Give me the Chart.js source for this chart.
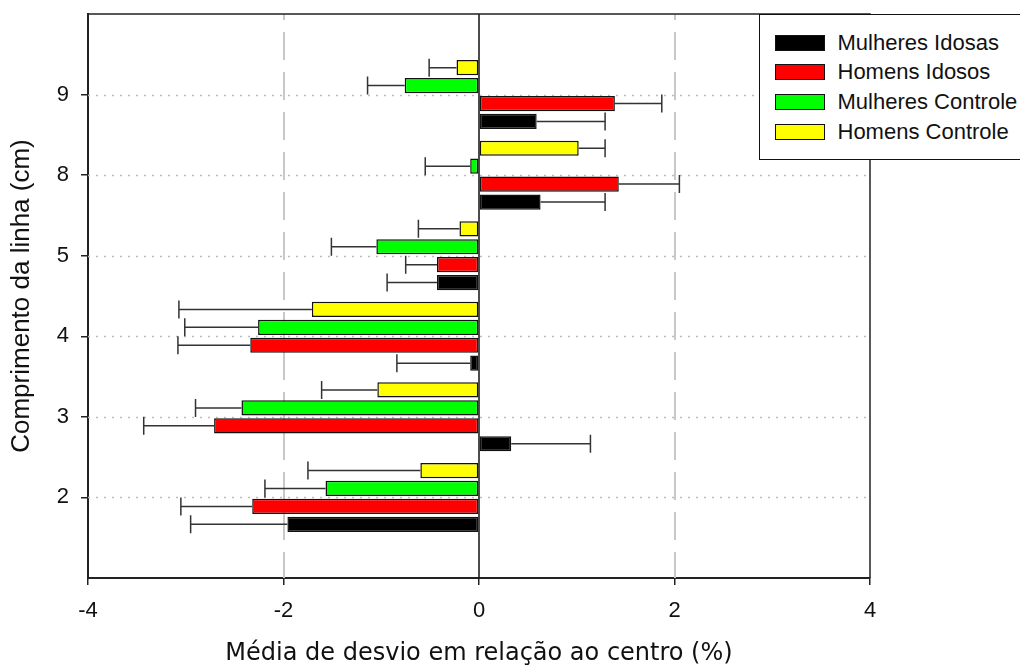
<!DOCTYPE html>
<html>
<head>
<meta charset="utf-8">
<script src="https://cdn.jsdelivr.net/npm/chart.js@4.4.1/dist/chart.umd.min.js"></script>
<style>
  html, body { margin: 0; padding: 0; background: #fff; }
  #wrap { position: relative; width: 1020px; height: 668px; overflow: hidden; }
  #legend {
    position: absolute; left: 759px; top: 14px; width: 300px; height: 146px;
    border: 1.5px solid #111; background: #fff; box-sizing: border-box;
    font-family: "Liberation Sans", Arial, sans-serif; font-size: 22px; color: #111;
  }
  .item { position: absolute; left: 14.5px; height: 16px; display: flex; align-items: center; white-space: nowrap; }
  .sw { width: 50px; height: 16px; border: 1.5px solid #111; box-sizing: border-box; margin-right: 13px; flex: none; }
</style>
</head>
<body>
<div id="wrap">
  <canvas id="chart" width="1020" height="668"></canvas>
  <div id="legend"></div>
</div>
<script>
"use strict";

// categories from bottom to top
const categories = ['2', '3', '4', '5', '8', '9'];
const xTicks = [-4, -2, 0, 2, 4];

const mulheresIdosas = [-1.96, 0.33, -0.09, -0.43, 0.63, 0.59];
const mulheresIdosasErr = [0.99, 0.81, 0.75, 0.51, 0.66, 0.70];

const homensIdosos = [-2.32, -2.71, -2.34, -0.43, 1.43, 1.39];
const homensIdososErr = [0.73, 0.72, 0.74, 0.32, 0.62, 0.48];

const mulheresControle = [-1.57, -2.43, -2.26, -1.05, -0.09, -0.76];
const mulheresControleErr = [0.62, 0.47, 0.75, 0.46, 0.46, 0.38];

const homensControle = [-0.60, -1.04, -1.71, -0.20, 1.02, -0.23];
const homensControleErr = [1.15, 0.57, 1.36, 0.42, 0.27, 0.28];

const series = [
  { label: 'Mulheres Idosas', values: mulheresIdosas, errors: mulheresIdosasErr, color: '#000000' },
  { label: 'Homens Idosos', values: homensIdosos, errors: homensIdososErr, color: '#ff0000' },
  { label: 'Mulheres Controle', values: mulheresControle, errors: mulheresControleErr, color: '#00ff00' },
  { label: 'Homens Controle', values: homensControle, errors: homensControleErr, color: '#ffff00' }
];

const sansFont = '"Liberation Sans", Arial, sans-serif';

// first dataset is drawn at the top of each group, so reverse
const datasets = series.slice().reverse().map(s => ({
  label: s.label,
  data: s.values.map((v, i) => ({ x: v, y: i + 1 })),
  errors: s.errors,
  backgroundColor: s.color,
  borderColor: '#111',
  borderWidth: 1.5,
  borderSkipped: false,
  categoryPercentage: 0.89,
  barPercentage: 0.85
}));

const backGrid = {
  id: 'backGrid',
  beforeDatasetsDraw(chart) {
    const { ctx, chartArea: a, scales } = chart;
    ctx.save();
    // dotted lines at each category
    ctx.strokeStyle = '#bdbdbd';
    ctx.lineWidth = 1.5;
    ctx.setLineDash([2, 6]);
    categories.forEach((c, i) => {
      const y = Math.round(scales.y.getPixelForValue(i + 1)) + 0.5;
      ctx.beginPath();
      ctx.moveTo(a.left, y);
      ctx.lineTo(a.right, y);
      ctx.stroke();
    });
    // dashed lines at -2 and 2
    ctx.strokeStyle = '#c8c8c8';
    ctx.lineWidth = 2;
    ctx.setLineDash([28, 12]);
    ctx.lineDashOffset = 22;
    [-2, 2].forEach(v => {
      const x = Math.round(scales.x.getPixelForValue(v));
      ctx.beginPath();
      ctx.moveTo(x, a.top);
      ctx.lineTo(x, a.bottom);
      ctx.stroke();
    });
    // zero line
    ctx.setLineDash([]);
    ctx.strokeStyle = '#111';
    ctx.lineWidth = 1.5;
    const x0 = scales.x.getPixelForValue(0);
    ctx.beginPath();
    ctx.moveTo(x0, a.top);
    ctx.lineTo(x0, a.bottom);
    ctx.stroke();
    ctx.restore();
  },
  afterDraw(chart) {
    const { ctx, chartArea: a } = chart;
    ctx.save();
    ctx.strokeStyle = '#222';
    ctx.lineWidth = 1.5;
    ctx.beginPath();
    ctx.moveTo(a.left, a.top);
    ctx.lineTo(a.right, a.top);
    ctx.lineTo(a.right, a.bottom);
    ctx.stroke();
    ctx.restore();
  }
};

const errorBars = {
  id: 'errorBars',
  afterDatasetsDraw(chart) {
    const ctx = chart.ctx;
    const xs = chart.scales.x;
    ctx.save();
    ctx.strokeStyle = '#333';
    ctx.lineWidth = 1.5;
    chart.data.datasets.forEach((ds, di) => {
      const meta = chart.getDatasetMeta(di);
      meta.data.forEach((bar, i) => {
        const v = ds.data[i].x;
        const dir = v < 0 ? -1 : 1;
        const xEnd = xs.getPixelForValue(v + dir * ds.errors[i]);
        const y = bar.y;
        ctx.beginPath();
        ctx.moveTo(bar.x, y);
        ctx.lineTo(xEnd, y);
        ctx.moveTo(xEnd, y - 9);
        ctx.lineTo(xEnd, y + 9);
        ctx.stroke();
      });
    });
    ctx.restore();
  }
};

const chart = new Chart(document.getElementById('chart'), {
  type: 'bar',
  data: { datasets: datasets },
  options: {
    indexAxis: 'y',
    responsive: false,
    animation: false,
    layout: { padding: { left: 0, right: 150, top: 14, bottom: 0 } },
    plugins: { legend: { display: false }, tooltip: { enabled: false } },
    scales: {
      x: {
        type: 'linear',
        min: -4,
        max: 4,
        offset: false,
        afterBuildTicks: scale => { scale.ticks = xTicks.map(v => ({ value: v })); },
        afterFit: scale => { scale.height = 90; scale.paddingLeft = 0; scale.paddingRight = 0; },
        grid: { offset: false, drawOnChartArea: false, drawTicks: true, tickLength: 7, color: '#222', lineWidth: 1.5 },
        border: { display: true, color: '#222', width: 2 },
        ticks: { color: '#111', padding: 13, font: { family: sansFont, size: 22 } },
        title: {
          display: true,
          text: 'Média de desvio em relação ao centro (%)',
          color: '#111',
          padding: { top: 0, bottom: 0 },
          font: { family: '"DejaVu Sans", Verdana, sans-serif', size: 24 }
        }
      },
      y: {
        type: 'linear',
        min: 0,
        max: categories.length + 1,
        offset: false,
        afterBuildTicks: scale => { scale.ticks = categories.map((c, i) => ({ value: i + 1 })); },
        afterFit: scale => { scale.width = 88; scale.paddingTop = 0; scale.paddingBottom = 0; },
        grid: { offset: false, drawOnChartArea: false, drawTicks: true, tickLength: 7, color: '#222', lineWidth: 1.5 },
        border: { display: true, color: '#222', width: 2 },
        ticks: {
          color: '#111',
          padding: 12,
          font: { family: sansFont, size: 22 },
          callback: v => categories[v - 1]
        },
        title: {
          display: true,
          text: 'Comprimento da linha (cm)',
          color: '#111',
          padding: { top: 6, bottom: 0 },
          font: { family: sansFont, size: 26 }
        }
      }
    }
  },
  plugins: [backGrid, errorBars]
});

// legend in the same order as the original
const legend = document.getElementById('legend');
series.forEach((s, i) => {
  const item = document.createElement('div');
  item.className = 'item';
  item.style.top = (19.5 + i * 29.7) + 'px';
  item.innerHTML = '<span class="sw" style="background:' + s.color + '"></span><span>' + s.label + '</span>';
  legend.appendChild(item);
});
</script>
</body>
</html>
